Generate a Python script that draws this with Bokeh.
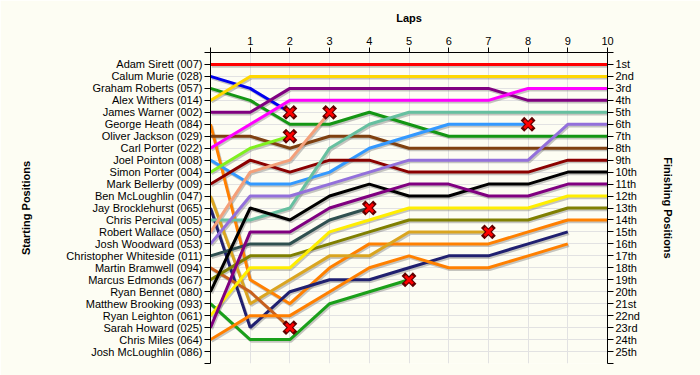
from bokeh.plotting import figure
from bokeh.models import Range1d, LinearAxis, FixedTicker, ColumnDataSource
from bokeh.transform import dodge
from bokeh.embed import file_html
from bokeh.resources import INLINE

# ---- data ----
laps = [0, 1, 2, 3, 4, 5, 6, 7, 8, 9, 10]
lap_labels = ["", "1", "2", "3", "4", "5", "6", "7", "8", "9", "10"]

start_names = [
    "Adam Sirett (007)", "Calum Murie (028)", "Graham Roberts (057)", "Alex Withers (014)",
    "James Warner (002)", "George Heath (084)", "Oliver Jackson (029)", "Carl Porter (022)",
    "Joel Pointon (008)", "Simon Porter (004)", "Mark Bellerby (009)", "Ben McLoughlin (047)",
    "Jay Brocklehurst (065)", "Chris Percival (005)", "Robert Wallace (050)", "Josh Woodward (053)",
    "Christopher Whiteside (011)", "Martin Bramwell (094)", "Marcus Edmonds (067)", "Ryan Bennet (080)",
    "Matthew Brooking (093)", "Ryan Leighton (061)", "Sarah Howard (025)", "Chris Miles (064)",
    "Josh McLoughlin (086)",
]
finish_labels = [
    "1st", "2nd", "3rd", "4th", "5th", "6th", "7th", "8th", "9th", "10th", "11th", "12th", "13th",
    "14th", "15th", "16th", "17th", "18th", "19th", "20th", "21st", "22nd", "23rd", "24th", "25th",
]

# position at each lap (lap 0 = grid)
adam_sirett = [1, 1, 1, 1, 1, 1, 1, 1, 1, 1, 1]
calum_murie = [2, 3, 5]
graham_roberts = [3, 4, 6, 6, 5, 6, 7, 7, 7, 7, 7]
alex_withers = [4, 2, 2, 2, 2, 2, 2, 2, 2, 2, 2]
james_warner = [5, 5, 3, 3, 3, 3, 3, 3, 4, 4, 4]
george_heath = [6, 19, 21, 18, 16, 16, 16, 16, 15, 14, 14]
oliver_jackson = [7, 7, 8, 7, 7, 8, 8, 8, 8, 8, 8]
carl_porter = [8, 6, 4, 4, 4, 4, 4, 4, 3, 3, 3]
joel_pointon = [9, 11, 11, 10, 8, 7, 6, 6, 6]
simon_porter = [10, 8, 7]
mark_bellerby = [11, 9, 10, 9, 9, 10, 10, 10, 10, 9, 9]
ben_mcloughlin = [12, 21, 19, 17, 17, 15, 15, 15]
jay_brocklehurst = [13, 23, 20, 19, 19, 18, 17, 17, 16, 15]
chris_percival = [14, 14, 13, 8, 6, 5, 5, 5, 5, 5, 5]
robert_wallace = [15, 10, 9, 5]
josh_woodward = [16, 12, 12, 11, 10, 9, 9, 9, 9, 6, 6]
christopher_whiteside = [17, 16, 16, 14, 13]
martin_bramwell = [18, 20, 23]
marcus_edmonds = [19, 17, 17, 16, 15, 14, 14, 14, 14, 13, 13]
ryan_bennet = [20, 13, 14, 12, 11, 12, 12, 11, 11, 10, 10]
matthew_brooking = [21, 24, 24, 21, 20, 19]
ryan_leighton = [22, 18, 18, 15, 14, 13, 13, 13, 13, 12, 12]
sarah_howard = [23, 15, 15, 13, 12, 11, 11, 12, 12, 11, 11]
chris_miles = [24, 22, 22, 20, 18, 17, 18, 18, 17, 16]

series = [
    (adam_sirett, "#ff0000", False),
    (calum_murie, "#0000ee", True),
    (graham_roberts, "#149614", False),
    (alex_withers, "#ffd700", False),
    (james_warner, "#800080", False),
    (george_heath, "#ff8000", False),
    (oliver_jackson, "#7f4010", False),
    (carl_porter, "#ff00ff", False),
    (joel_pointon, "#3399ff", True),
    (simon_porter, "#80f020", True),
    (mark_bellerby, "#8b0000", False),
    (ben_mcloughlin, "#daa520", True),
    (jay_brocklehurst, "#202070", False),
    (chris_percival, "#66c0a0", False),
    (robert_wallace, "#f4a07a", True),
    (josh_woodward, "#9370db", False),
    (christopher_whiteside, "#2f5050", True),
    (martin_bramwell, "#c8601e", True),
    (marcus_edmonds, "#808000", False),
    (ryan_bennet, "#000000", False),
    (matthew_brooking, "#1aa01a", True),
    (ryan_leighton, "#ffee00", False),
    (sarah_howard, "#800080", False),
    (chris_miles, "#ff8000", False),
]

BG = "#fdfdf3"
FONT = "Liberation Sans"

p = figure(
    frame_width=397, frame_height=311,
    x_range=Range1d(0, 10), y_range=Range1d(26, 0),
    x_axis_location="above",
    output_backend="svg", toolbar_location=None,
    min_border_left=210, min_border_right=93, min_border_top=52, min_border_bottom=12,
    background_fill_color=BG, border_fill_color=BG, outline_line_color=None,
)

# grid
p.xgrid.ticker = FixedTicker(ticks=laps)
p.ygrid.ticker = FixedTicker(ticks=list(range(1, 27)))
p.xgrid.grid_line_color = "#e2e2e2"
p.ygrid.grid_line_color = "#e2e2e2"

# top axis (laps)
xa = p.xaxis[0]
xa.ticker = FixedTicker(ticks=laps)
xa.major_label_overrides = {i: lab for i, lab in zip(laps, lap_labels)}
xa.axis_label = "Laps"

# left axis (starting positions)
ya = p.yaxis[0]
ya.ticker = FixedTicker(ticks=list(range(0, 27)))
left_over = {0: "", 26: ""}
for i, n in enumerate(start_names):
    left_over[i + 1] = n
ya.major_label_overrides = left_over
ya.axis_label = "Starting Positions"

# right axis (finishing positions)
ra = LinearAxis(ticker=FixedTicker(ticks=list(range(0, 27))))
right_over = {0: "", 26: ""}
for i, n in enumerate(finish_labels):
    right_over[i + 1] = n
ra.major_label_overrides = right_over
ra.axis_label = "Finishing Positions"
p.add_layout(ra, "right")

for ax in [xa, ya, ra]:
    ax.minor_tick_line_color = None
    ax.major_tick_in = 0
    ax.major_tick_out = 6
    ax.axis_line_color = "black"
    ax.major_tick_line_color = "black"
    ax.major_label_text_font = FONT
    ax.major_label_text_font_size = "11px"
    ax.major_label_text_color = "#000000"
    ax.major_label_standoff = 2
    ax.axis_label_text_font = FONT
    ax.axis_label_text_font_size = "11px"
    ax.axis_label_text_font_style = "bold"
    ax.axis_label_text_color = "#000000"

xa.major_tick_out = 5
xa.major_label_standoff = 3
xa.axis_label_standoff = 10
ya.axis_label_standoff = 31
ra.axis_label_standoff = 19

# shadows then lines
x_markers, y_markers = [], []
for pos, color, retired in series:
    src = ColumnDataSource(dict(lap=laps[:len(pos)], pos=pos))
    p.line(x=dodge("lap", 0.03), y=dodge("pos", 0.14), source=src,
           line_color="#808080", line_alpha=0.45, line_width=3)
for pos, color, retired in series:
    src = ColumnDataSource(dict(lap=laps[:len(pos)], pos=pos))
    p.line(x="lap", y="pos", source=src, line_color=color, line_width=3)
    if retired:
        x_markers.append(laps[len(pos) - 1])
        y_markers.append(pos[-1])

msrc = ColumnDataSource(dict(lap=x_markers, pos=y_markers))
p.scatter(x="lap", y="pos", source=msrc, marker="x", size=11, line_width=5,
          line_color="#600000", line_cap="square")
p.scatter(x="lap", y="pos", source=msrc, marker="x", size=11, line_width=2.8,
          line_color="#ff0000", line_cap="butt")

open("out.html", "w").write(file_html(p, INLINE))
